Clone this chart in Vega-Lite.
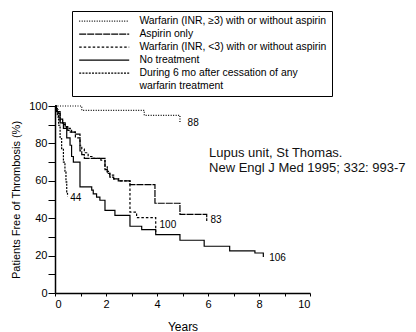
{
  "$schema": "https://vega.github.io/schema/vega-lite/v6.json",
  "autosize": {"type": "none"},
  "padding": {"left": 55, "top": 106, "right": 106, "bottom": 40},
  "width": 255,
  "height": 187,
  "background": "white",
  "config": {
    "view": {"stroke": null},
    "font": "Liberation Sans",
    "axis": {"grid": false, "domainColor": "black", "tickColor": "black", "labelColor": "black", "titleColor": "black", "titleFontWeight": "normal", "domainWidth": 1.5, "tickWidth": 1},
    "legend": {"orient": "none", "legendX": 17, "legendY": -95, "strokeColor": "black", "padding": 5, "symbolType": "M-1,0H15.67", "symbolSize": 36, "symbolStrokeColor": "black", "symbolFillColor": "transparent", "labelFontSize": 10.4, "labelColor": "black", "rowPadding": 2, "labelOffset": 52, "labelLimit": 300}
  },
  "datasets": {
    "curves": [
      {"group": "Warfarin (INR, ≥3) with or without aspirin", "t": 0, "s": 100},
      {"group": "Warfarin (INR, ≥3) with or without aspirin", "t": 1.05, "s": 97.7},
      {"group": "Warfarin (INR, ≥3) with or without aspirin", "t": 3.5, "s": 95},
      {"group": "Warfarin (INR, ≥3) with or without aspirin", "t": 4.9, "s": 91},

      {"group": "Aspirin only", "t": 0, "s": 100},
      {"group": "Aspirin only", "t": 0.05, "s": 98},
      {"group": "Aspirin only", "t": 0.12, "s": 96},
      {"group": "Aspirin only", "t": 0.2, "s": 93},
      {"group": "Aspirin only", "t": 0.3, "s": 91},
      {"group": "Aspirin only", "t": 0.4, "s": 89},
      {"group": "Aspirin only", "t": 0.5, "s": 87},
      {"group": "Aspirin only", "t": 0.65, "s": 86},
      {"group": "Aspirin only", "t": 0.8, "s": 85},
      {"group": "Aspirin only", "t": 0.98, "s": 76},
      {"group": "Aspirin only", "t": 1.05, "s": 74},
      {"group": "Aspirin only", "t": 1.15, "s": 72},
      {"group": "Aspirin only", "t": 1.96, "s": 66},
      {"group": "Aspirin only", "t": 2.05, "s": 64},
      {"group": "Aspirin only", "t": 2.15, "s": 62},
      {"group": "Aspirin only", "t": 2.3, "s": 61},
      {"group": "Aspirin only", "t": 2.48, "s": 60},
      {"group": "Aspirin only", "t": 2.94, "s": 58},
      {"group": "Aspirin only", "t": 3.92, "s": 48},
      {"group": "Aspirin only", "t": 4.9, "s": 42},
      {"group": "Aspirin only", "t": 5.95, "s": 38.5},

      {"group": "Warfarin (INR, <3) with or without aspirin", "t": 0, "s": 100},
      {"group": "Warfarin (INR, <3) with or without aspirin", "t": 0.05, "s": 97},
      {"group": "Warfarin (INR, <3) with or without aspirin", "t": 0.12, "s": 94},
      {"group": "Warfarin (INR, <3) with or without aspirin", "t": 0.2, "s": 92},
      {"group": "Warfarin (INR, <3) with or without aspirin", "t": 0.3, "s": 90},
      {"group": "Warfarin (INR, <3) with or without aspirin", "t": 0.45, "s": 88},
      {"group": "Warfarin (INR, <3) with or without aspirin", "t": 0.6, "s": 86},
      {"group": "Warfarin (INR, <3) with or without aspirin", "t": 0.8, "s": 83},
      {"group": "Warfarin (INR, <3) with or without aspirin", "t": 0.98, "s": 79},
      {"group": "Warfarin (INR, <3) with or without aspirin", "t": 1.05, "s": 77},
      {"group": "Warfarin (INR, <3) with or without aspirin", "t": 1.15, "s": 75},
      {"group": "Warfarin (INR, <3) with or without aspirin", "t": 1.3, "s": 73},
      {"group": "Warfarin (INR, <3) with or without aspirin", "t": 1.5, "s": 72},
      {"group": "Warfarin (INR, <3) with or without aspirin", "t": 1.8, "s": 71},
      {"group": "Warfarin (INR, <3) with or without aspirin", "t": 1.96, "s": 68},
      {"group": "Warfarin (INR, <3) with or without aspirin", "t": 2.05, "s": 65},
      {"group": "Warfarin (INR, <3) with or without aspirin", "t": 2.15, "s": 63},
      {"group": "Warfarin (INR, <3) with or without aspirin", "t": 2.3, "s": 61},
      {"group": "Warfarin (INR, <3) with or without aspirin", "t": 2.5, "s": 60},
      {"group": "Warfarin (INR, <3) with or without aspirin", "t": 2.94, "s": 43.3},
      {"group": "Warfarin (INR, <3) with or without aspirin", "t": 3.2, "s": 40.3},
      {"group": "Warfarin (INR, <3) with or without aspirin", "t": 3.95, "s": 32.6},

      {"group": "No treatment", "t": 0, "s": 100},
      {"group": "No treatment", "t": 0.06, "s": 97},
      {"group": "No treatment", "t": 0.2, "s": 91},
      {"group": "No treatment", "t": 0.33, "s": 88},
      {"group": "No treatment", "t": 0.46, "s": 83},
      {"group": "No treatment", "t": 0.59, "s": 79},
      {"group": "No treatment", "t": 0.65, "s": 73},
      {"group": "No treatment", "t": 0.72, "s": 70},
      {"group": "No treatment", "t": 0.98, "s": 56.7},
      {"group": "No treatment", "t": 1.44, "s": 55},
      {"group": "No treatment", "t": 1.5, "s": 53},
      {"group": "No treatment", "t": 1.63, "s": 51.3},
      {"group": "No treatment", "t": 1.76, "s": 49.6},
      {"group": "No treatment", "t": 1.96, "s": 44.2},
      {"group": "No treatment", "t": 2.35, "s": 41.5},
      {"group": "No treatment", "t": 2.94, "s": 35.7},
      {"group": "No treatment", "t": 3.4, "s": 33.9},
      {"group": "No treatment", "t": 3.95, "s": 31.2},
      {"group": "No treatment", "t": 4.9, "s": 28.2},
      {"group": "No treatment", "t": 5.85, "s": 25},
      {"group": "No treatment", "t": 6.85, "s": 22.5},
      {"group": "No treatment", "t": 7.84, "s": 21.4},
      {"group": "No treatment", "t": 8.17, "s": 19.3},

      {"group": "During 6 mo after cessation of any warfarin treatment", "t": 0, "s": 100},
      {"group": "During 6 mo after cessation of any warfarin treatment", "t": 0.04, "s": 98.6},
      {"group": "During 6 mo after cessation of any warfarin treatment", "t": 0.09, "s": 95},
      {"group": "During 6 mo after cessation of any warfarin treatment", "t": 0.14, "s": 89.7},
      {"group": "During 6 mo after cessation of any warfarin treatment", "t": 0.2, "s": 82.6},
      {"group": "During 6 mo after cessation of any warfarin treatment", "t": 0.26, "s": 77.2},
      {"group": "During 6 mo after cessation of any warfarin treatment", "t": 0.33, "s": 70},
      {"group": "During 6 mo after cessation of any warfarin treatment", "t": 0.39, "s": 64.7},
      {"group": "During 6 mo after cessation of any warfarin treatment", "t": 0.43, "s": 59.4},
      {"group": "During 6 mo after cessation of any warfarin treatment", "t": 0.46, "s": 54},
      {"group": "During 6 mo after cessation of any warfarin treatment", "t": 0.49, "s": 51.7}
    ],
    "labels": [
      {"t": 5.2, "s": 90.7, "label": "88"},
      {"t": 6.1, "s": 39, "label": "83"},
      {"t": 4.1, "s": 36.2, "label": "100"},
      {"t": 8.4, "s": 18.5, "label": "106"},
      {"t": 0.6, "s": 51, "label": "44"}
    ],
    "notes": [
      {"t": 6.04, "s": 74.7, "text": "Lupus unit, St Thomas."},
      {"t": 6.04, "s": 66.7, "text": "New Engl J Med 1995; 332: 993-7"}
    ]
  },
  "encoding": {
    "x": {"field": "t", "type": "quantitative", "scale": {"domain": [0, 10], "nice": false},
      "axis": {"title": "Years", "values": [0,1,2,3,4,5,6,7,8,9,10], "labelExpr": "datum.value % 2 == 0 ? datum.label : ''", "labelOverlap": false, "tickSize": 3, "labelPadding": 2, "labelFontSize": 11, "titleFontSize": 12, "titlePadding": 12}},
    "y": {"field": "s", "type": "quantitative", "scale": {"domain": [0, 100], "nice": false},
      "axis": {"title": "Patients Free of Thrombosis (%)", "values": [0,10,20,30,40,50,60,70,80,90,100], "labelExpr": "datum.value % 20 == 0 ? datum.label : ''", "labelOverlap": false, "tickSize": 7, "labelPadding": 1, "labelFontSize": 11, "titleFontSize": 11, "titlePadding": 7}}
  },
  "layer": [
    {
      "data": {"name": "curves"},
      "mark": {"type": "line", "interpolate": "step-after", "color": "black"},
      "encoding": {
        "detail": {"field": "group"},
        "strokeDash": {"field": "group", "type": "nominal",
          "scale": {"domain": ["Warfarin (INR, ≥3) with or without aspirin", "Aspirin only", "Warfarin (INR, <3) with or without aspirin", "No treatment", "During 6 mo after cessation of any warfarin treatment"],
                    "range": [[1, 1.5], [7, 1], [2.5, 2], [1, 0], [2, 1.2]]},
          "legend": {"title": null,
            "labelExpr": "indexof(datum.label, 'During') == 0 ? ['During 6 mo after cessation of any', 'warfarin treatment'] : datum.label"}},
        "strokeWidth": {"field": "group", "type": "nominal",
          "scale": {"domain": ["Warfarin (INR, ≥3) with or without aspirin", "Aspirin only", "Warfarin (INR, <3) with or without aspirin", "No treatment", "During 6 mo after cessation of any warfarin treatment"],
                    "range": [1.2, 1.2, 1.1, 1.6, 2]},
          "legend": {"title": null,
            "labelExpr": "indexof(datum.label, 'During') == 0 ? ['During 6 mo after cessation of any', 'warfarin treatment'] : datum.label"}}
      }
    },
    {
      "data": {"name": "labels"},
      "mark": {"type": "text", "align": "left", "baseline": "middle", "fontSize": 10, "color": "black"},
      "encoding": {
        "text": {"field": "label"}
      }
    },
    {
      "data": {"name": "notes"},
      "mark": {"type": "text", "align": "left", "baseline": "middle", "fontSize": 13, "color": "#111"},
      "encoding": {
        "text": {"field": "text"}
      }
    }
  ]
}
